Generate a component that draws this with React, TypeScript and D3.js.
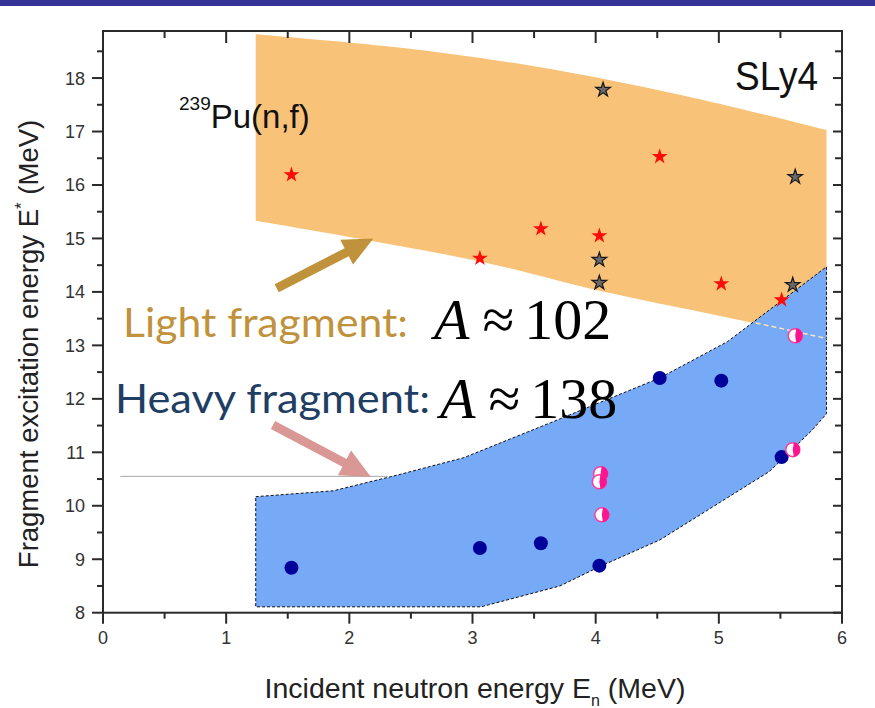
import React, { useEffect, useRef } from "react";
import * as d3 from "d3";

// x = incident neutron energy (MeV), y = fragment excitation energy (MeV)
const xTicks = [0, 1, 2, 3, 4, 5, 6];
const yTicks = [8, 9, 10, 11, 12, 13, 14, 15, 16, 17, 18];

// SLy4 light fragment band (orange)
const lightTopX = [1.24, 2.4, 3.5, 4.7, 5.874];
const lightTopY = [18.82, 18.57, 18.22, 17.68, 17.03];
const lightBotX = [1.24, 3.06, 4.03, 5.01, 5.874];
const lightBotY = [15.33, 14.57, 14.02, 13.55, 13.13];

// heavy fragment band (blue)
const heavyTopX = [1.24, 1.87, 2.4, 2.93, 3.63, 4.52, 5.07, 5.874];
const heavyTopY = [10.17, 10.28, 10.58, 10.9, 11.55, 12.39, 13.07, 14.47];
const heavyBotX = [1.24, 3.07, 3.71, 4.03, 4.52, 5.0, 5.41, 5.76, 5.874];
const heavyBotY = [8.11, 8.11, 8.5, 8.86, 9.36, 10.05, 10.64, 11.42, 11.72];

// light fragment, red stars
const redStarX = [1.53, 3.06, 3.555, 4.03, 4.52, 5.02, 5.51];
const redStarY = [16.19, 14.63, 15.18, 15.05, 16.53, 14.15, 13.85];
// light fragment, gray stars
const grayStarX = [4.06, 4.03, 4.03, 5.62, 5.6];
const grayStarY = [17.78, 14.6, 14.17, 16.15, 14.13];
// heavy fragment, blue dots
const blueDotX = [1.53, 3.06, 3.555, 4.03, 4.52, 5.02, 5.51];
const blueDotY = [8.84, 9.21, 9.3, 8.88, 12.39, 12.34, 10.91];
// heavy fragment, pink half dots
const pinkDotX = [4.04, 4.03, 4.05, 5.62, 5.6];
const pinkDotY = [10.6, 10.45, 9.83, 13.18, 11.05];

const W = 875;
const H = 708;

export default function App() {
    const svgRef = useRef<SVGSVGElement | null>(null);

    useEffect(() => {
        const svg = d3.select(svgRef.current);
        svg.selectAll("*").remove();

        const x = d3.scaleLinear().domain([0, 6]).range([103, 842]);
        const y = d3.scaleLinear().domain([8, 18.88]).range([612.7, 31]);
        const [x0, x1] = x.range();
        const [yb, yt] = y.range();

        // top banner
        svg.append("rect").attr("x", 0).attr("y", 0).attr("width", W).attr("height", 6).attr("fill", "#343498");

        const pts = (xs: number[], ys: number[]) => xs.map((v, i) => [x(v), y(ys[i])] as [number, number]);

        // orange band
        const smooth = d3.line().curve(d3.curveCatmullRom);
        const topPath = smooth(pts(lightTopX, lightTopY)) as string;
        const botPath = smooth(pts(lightBotX, lightBotY).reverse()) as string;
        svg.append("path")
            .attr("d", topPath + "L" + botPath.slice(1) + "Z")
            .attr("fill", "#F8C278");

        // blue band
        const heavyPoly = [...pts(heavyTopX, heavyTopY), ...pts(heavyBotX, heavyBotY).reverse()];
        svg.append("path")
            .attr("d", (d3.line()(heavyPoly) as string) + "Z")
            .attr("fill", "#76A9F6")
            .attr("stroke", "#111")
            .attr("stroke-width", 1)
            .attr("stroke-dasharray", "3,2");

        // continuation of the orange lower edge inside the blue band
        svg.append("line")
            .attr("x1", x(5.3)).attr("y1", y(13.42))
            .attr("x2", x(5.874)).attr("y2", y(13.13))
            .attr("stroke", "#FCE3BC").attr("stroke-width", 1.5).attr("stroke-dasharray", "5,3");

        // thin gray guide line
        svg.append("line")
            .attr("x1", x(0.14)).attr("y1", y(10.55))
            .attr("x2", x(2.31)).attr("y2", y(10.55))
            .attr("stroke", "#a8a8a8").attr("stroke-width", 1);

        // markers
        const star = d3.symbol().type(d3.symbolStar).size(78);
        svg.append("g").selectAll("path").data(pts(redStarX, redStarY)).enter().append("path")
            .attr("d", star() as string)
            .attr("transform", (d) => `translate(${d[0]},${d[1]})`)
            .attr("fill", "#FF0A0A");
        svg.append("g").selectAll("path").data(pts(grayStarX, grayStarY)).enter().append("path")
            .attr("d", d3.symbol().type(d3.symbolStar).size(66)() as string)
            .attr("transform", (d) => `translate(${d[0]},${d[1]})`)
            .attr("fill", "#6a6a6a").attr("stroke", "#1a1a1a").attr("stroke-width", 1.2);

        svg.append("g").selectAll("circle").data(pts(blueDotX, blueDotY)).enter().append("circle")
            .attr("cx", (d) => d[0]).attr("cy", (d) => d[1]).attr("r", 7)
            .attr("fill", "#00009A");

        const pink = svg.append("g").selectAll("g").data(pts(pinkDotX, pinkDotY)).enter().append("g")
            .attr("transform", (d) => `translate(${d[0]},${d[1]})`);
        pink.append("circle").attr("r", 7).attr("fill", "#fff").attr("stroke", "#FF3FA0").attr("stroke-width", 1.5);
        pink.append("path")
            .attr("d", d3.arc()({ innerRadius: 0, outerRadius: 7.5, startAngle: 0.15, endAngle: Math.PI - 0.15 }) as string)
            .attr("fill", "#FF1490");

        // arrows
        const arrow = (a: [number, number], b: [number, number], color: string) => {
            const [ax, ay] = [x(a[0]), y(a[1])];
            const [bx, by] = [x(b[0]), y(b[1])];
            const len = Math.hypot(bx - ax, by - ay);
            const ux = (bx - ax) / len, uy = (by - ay) / len;
            const nx = -uy, ny = ux;
            const hl = 30, hw = 14, sw = 4.5;
            const cx = bx - ux * hl, cy = by - uy * hl;
            const p: [number, number][] = [
                [ax + nx * sw, ay + ny * sw],
                [cx + nx * sw, cy + ny * sw],
                [cx + nx * hw, cy + ny * hw],
                [bx, by],
                [cx - nx * hw, cy - ny * hw],
                [cx - nx * sw, cy - ny * sw],
                [ax - nx * sw, ay - ny * sw],
            ];
            svg.append("path").attr("d", (d3.line()(p) as string) + "Z").attr("fill", color);
        };
        arrow([1.41, 14.07], [2.195, 15.0], "#C0923B");
        arrow([1.38, 11.51], [2.176, 10.54], "#D99896");

        // frame and ticks
        const axisColor = "#2a2a2a";
        const g = svg.append("g").attr("stroke", axisColor);
        g.append("rect").attr("x", x0).attr("y", yt).attr("width", x1 - x0).attr("height", yb - yt)
            .attr("fill", "none").attr("stroke-width", 2);
        const xMinor = xTicks.slice(0, -1).map((v) => v + 0.5);
        const yMinor = yTicks.map((v) => v + 0.5).filter((v) => v < 18.88);
        xTicks.forEach((v) => {
            g.append("line").attr("x1", x(v)).attr("x2", x(v)).attr("y1", yb).attr("y2", yb + 11).attr("stroke-width", 2);
            g.append("line").attr("x1", x(v)).attr("x2", x(v)).attr("y1", yt).attr("y2", yt + 12).attr("stroke-width", 2);
        });
        xMinor.forEach((v) => {
            g.append("line").attr("x1", x(v)).attr("x2", x(v)).attr("y1", yb).attr("y2", yb + 6).attr("stroke-width", 2);
            g.append("line").attr("x1", x(v)).attr("x2", x(v)).attr("y1", yt).attr("y2", yt + 7).attr("stroke-width", 2);
        });
        yTicks.forEach((v) => {
            g.append("line").attr("y1", y(v)).attr("y2", y(v)).attr("x1", x0).attr("x2", x0 - 11).attr("stroke-width", 2);
            g.append("line").attr("y1", y(v)).attr("y2", y(v)).attr("x1", x1).attr("x2", x1 - 9).attr("stroke-width", 2);
        });
        yMinor.forEach((v) => {
            g.append("line").attr("y1", y(v)).attr("y2", y(v)).attr("x1", x0).attr("x2", x0 - 6).attr("stroke-width", 2);
            g.append("line").attr("y1", y(v)).attr("y2", y(v)).attr("x1", x1).attr("x2", x1 - 7).attr("stroke-width", 2);
        });

        const sans = "'Liberation Sans', Arial, sans-serif";
        svg.append("g").selectAll("text").data(xTicks).enter().append("text")
            .attr("x", (d) => x(d)).attr("y", yb + 31)
            .attr("text-anchor", "middle").attr("font-family", sans).attr("font-size", 18).attr("fill", "#333")
            .text((d) => d);
        svg.append("g").selectAll("text").data(yTicks).enter().append("text")
            .attr("x", x0 - 18).attr("y", (d) => y(d) + 6.5)
            .attr("text-anchor", "end").attr("font-family", sans).attr("font-size", 18).attr("fill", "#333")
            .text((d) => d);

        // axis titles
        const xt = svg.append("text").attr("x", 475).attr("y", 698).attr("text-anchor", "middle")
            .attr("font-family", sans).attr("font-size", 28.5).attr("fill", "#222");
        xt.append("tspan").text("Incident neutron energy E");
        xt.append("tspan").attr("font-size", 16).attr("dy", 8).text("n");
        xt.append("tspan").attr("dy", -8).text(" (MeV)");

        const yt2 = svg.append("text").attr("transform", "translate(38,344) rotate(-90)").attr("text-anchor", "middle")
            .attr("font-family", sans).attr("font-size", 27.5).attr("fill", "#222");
        yt2.append("tspan").text("Fragment excitation energy E");
        yt2.append("tspan").attr("font-size", 17).attr("dy", -11).text("*");
        yt2.append("tspan").attr("dy", 11).text(" (MeV)");

        // labels in the plot
        svg.append("text").attr("x", 735).attr("y", 90).attr("font-family", sans).attr("font-size", 40)
            .attr("textLength", 83).attr("lengthAdjust", "spacingAndGlyphs").attr("fill", "#111").text("SLy4");
        const pu = svg.append("text").attr("x", 179).attr("y", 128).attr("font-family", sans).attr("fill", "#111");
        pu.append("tspan").attr("font-size", 19).attr("dy", -18).text("239");
        pu.append("tspan").attr("font-size", 33).attr("dy", 18).text("Pu(n,f)");

        const cal = "Lato, 'Open Sans', sans-serif";
        svg.append("text").attr("x", 123).attr("y", 337).attr("font-family", cal).attr("font-size", 40)
            .attr("textLength", 285).attr("lengthAdjust", "spacingAndGlyphs").attr("fill", "#C0923B")
            .text("Light fragment:");
        svg.append("text").attr("x", 115).attr("y", 413).attr("font-family", cal).attr("font-size", 40)
            .attr("textLength", 315).attr("lengthAdjust", "spacingAndGlyphs").attr("fill", "#1F3E64")
            .text("Heavy fragment:");

        const serif = "'Liberation Serif', 'Times New Roman', serif";
        const mathLabel = (left: number, base: number, num: string) => {
            const t = svg.append("text").attr("x", left).attr("y", base).attr("font-family", serif)
                .attr("font-size", 58).attr("fill", "#000");
            t.append("tspan").attr("font-style", "italic").text("A");
            t.append("tspan").attr("dx", 13).text("≈");
            t.append("tspan").attr("dx", 10).text(num);
        };
        mathLabel(434, 339, "102");
        mathLabel(440, 418, "138");
    }, []);

    return (
        <svg
            ref={svgRef}
            width={W}
            height={H}
            style={{ position: "absolute", left: 0, top: 0, background: "#fff" }}
        />
    );
}
